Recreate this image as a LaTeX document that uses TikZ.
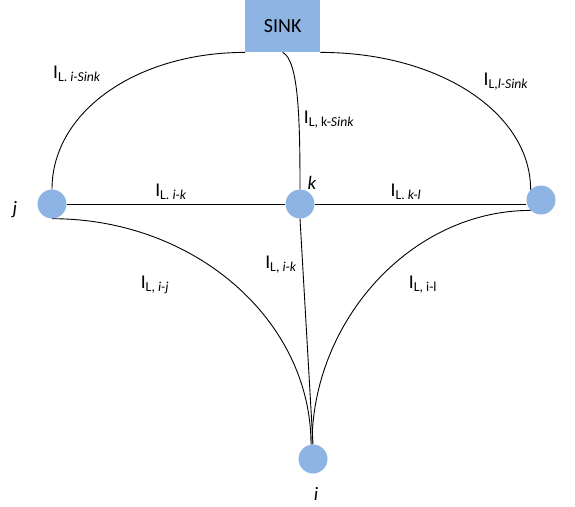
\documentclass[tikz,border=0pt]{standalone}
\usepackage{fontspec}
\setmainfont{Carlito}
\definecolor{nodeblue}{RGB}{141,180,226}
\begin{document}
\begin{tikzpicture}[x=1pt,y=-1pt,
  dot/.style={circle,fill=nodeblue,minimum size=29pt,inner sep=0pt},
  lbl/.style={font=\fontsize{19.5}{20}\selectfont,inner sep=0pt},
  nlbl/.style={font=\fontsize{19}{20}\selectfont\itshape,inner sep=0pt},
  edge/.style={draw=black,line width=0.9pt}]
\useasboundingbox (0,0) rectangle (575,506);
\node[fill=nodeblue,minimum width=75pt,minimum height=52pt,inner sep=0pt,anchor=north west,font=\fontsize{20}{22}\selectfont] (sink) at (245,0) {SINK};
\node[dot] (j) at (52,204) {};
\node[dot] (k) at (300,204) {};
\node[dot] (l) at (541,200) {};
\node[dot] (i) at (313,459) {};
\node[nlbl] (jl) at (15,210) {j};
\node[nlbl] (kl) at (312,183) {k};
\node[nlbl] (il) at (316,494) {i};
% edges
\draw[edge] (j.north) .. controls +(0,-78) and +(-108,0) .. (sink.south west);
\draw[edge] (sink.south east) .. controls +(120,0) and +(0,-76) .. (l.north west);
\draw[edge] (sink.south) .. controls +(16,8) and +(0,-70) .. (k.north);
\draw[edge] (j.east) -- (k.west);
\draw[edge] (k.east) -- (k.east -| l.west);
\draw[edge] (j.south) .. controls +(144,0) and +(0,-123) .. ([xshift=-2pt]i.north);
\draw[edge] (l.south west) .. controls +(-120,0) and +(0,-123) .. ([xshift=-1pt]i.north);
\draw[edge] (k.south) -- (i.north);
% labels
\node[lbl] (e1) at (77,74) {I\textsubscript{L. \textit{i-Sink}}};
\node[lbl] (e2) at (329,120) {I\textsubscript{L, k-\textit{Sink}}};
\node[lbl] (e3) at (506,82) {I\textsubscript{L,\textit{l-Sink}}};
\node[lbl] (e4) at (171,192) {I\textsubscript{L. \textit{i-k}}};
\node[lbl] (e5) at (406,192) {I\textsubscript{L. \textit{k-l}}};
\node[lbl] (e6) at (155,285) {I\textsubscript{L, \textit{i-j}}};
\node[lbl] (e7) at (281,265) {I\textsubscript{L, \textit{i-k}}};
\node[lbl] (e8) at (423,285) {I\textsubscript{L, i-l}};
\end{tikzpicture}
\end{document}
